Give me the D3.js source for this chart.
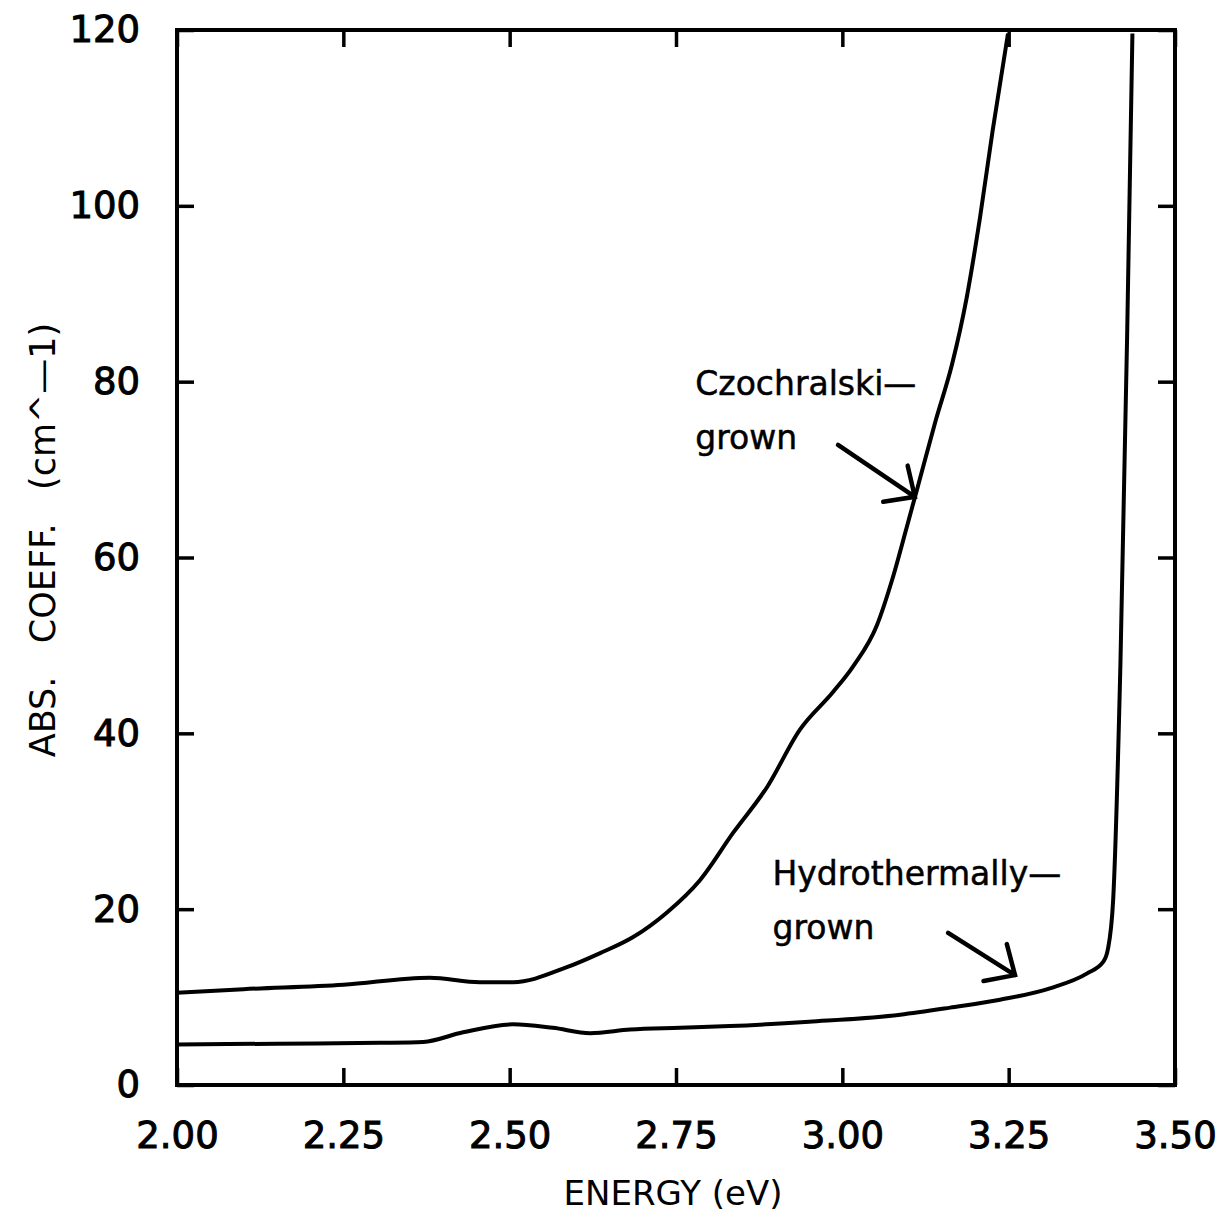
<!DOCTYPE html>
<html>
<head>
<meta charset="utf-8">
<script src="https://cdn.jsdelivr.net/npm/d3@7"></script>
<style>
  html, body { margin: 0; padding: 0; background: #fff; }
  svg { display: block; }
  text { font-family: "DejaVu Sans", sans-serif; fill: #000; }
</style>
</head>
<body>
<div id="chart"></div>
<script>
// Energy (eV) and absorption coefficient (cm^-1)
const czochralskiEnergy = [2.00, 2.10, 2.25, 2.38, 2.455, 2.505, 2.586, 2.636, 2.685, 2.736, 2.786, 2.836, 2.887, 2.936, 2.986, 3.016, 3.052, 3.075, 3.097, 3.115, 3.140, 3.165, 3.187, 3.207, 3.226, 3.249];
const czochralskiCoeff  = [10.5, 10.9, 11.4, 12.2, 11.7, 11.7, 13.4, 15.0, 16.8, 19.6, 23.3, 28.7, 33.9, 40.4, 44.7, 47.6, 52.3, 57.5, 63.5, 68.5, 75.5, 82.0, 89.6, 98.7, 108.6, 119.6];

const hydroEnergy = [2.00, 2.15, 2.305, 2.37, 2.43, 2.505, 2.565, 2.621, 2.681, 2.756, 2.831, 2.95, 3.087, 3.162, 3.237, 3.312, 3.368, 3.392, 3.399, 3.407, 3.418, 3.428, 3.436];
const hydroCoeff  = [4.6, 4.7, 4.8, 4.9, 6.0, 6.9, 6.5, 5.9, 6.3, 6.5, 6.7, 7.2, 8.0, 8.8, 9.7, 11.0, 12.7, 14.0, 15.4, 21.0, 48.0, 85.0, 119.6];

const xTicks = [2.00, 2.25, 2.50, 2.75, 3.00, 3.25, 3.50];
const yTicks = [0, 20, 40, 60, 80, 100, 120];

const xTitle = 'ENERGY (eV)';
const yTitle = 'ABS.   COEFF.   (cm^—1)';

// annotation labels and arrows, in data units
const labels = [
  { lines: ['Czochralski—', 'grown'], e: 2.779, a: 78.5 },
  { lines: ['Hydrothermally—', 'grown'], e: 2.895, a: 22.7 }
];
const arrows = [
  { from: [2.9935, 72.8], to: [3.109, 66.9] },
  { from: [3.159, 17.3], to: [3.2595, 12.5] }
];

const width = 1229, height = 1221;
const margin = { top: 30, right: 54, bottom: 136, left: 177 };
const w = width - margin.left - margin.right;
const h = height - margin.top - margin.bottom;

const svg = d3.select('#chart')
  .append('svg')
  .attr('width', width)
  .attr('height', height);

const g = svg.append('g')
  .attr('transform', `translate(${margin.left},${margin.top})`);

const x = d3.scaleLinear().domain([2.0, 3.5]).range([0, w]);
const y = d3.scaleLinear().domain([0, 120]).range([h, 0]);

const tickLen = 17;

// Bottom axis (inward ticks + labels)
const xAxis = g.append('g')
  .attr('transform', `translate(0,${h})`)
  .call(d3.axisBottom(x).tickValues(xTicks).tickSizeInner(-tickLen).tickSizeOuter(0)
    .tickPadding(tickLen + 20).tickFormat(d3.format('.2f')));

// Top axis, ticks only
const xAxisTop = g.append('g')
  .call(d3.axisTop(x).tickValues(xTicks).tickSizeInner(-tickLen).tickSizeOuter(0).tickFormat(''));

// Left axis
const yAxis = g.append('g')
  .call(d3.axisLeft(y).tickValues(yTicks).tickSizeInner(-tickLen).tickSizeOuter(0)
    .tickPadding(tickLen + 20).tickFormat(d3.format('d')));

// Right axis, ticks only
const yAxisRight = g.append('g')
  .attr('transform', `translate(${w},0)`)
  .call(d3.axisRight(y).tickValues(yTicks).tickSizeInner(-tickLen).tickSizeOuter(0).tickFormat(''));

[xAxis, xAxisTop, yAxis, yAxisRight].forEach(ax => {
  ax.select('.domain').remove();
  ax.selectAll('line').attr('stroke', '#000').attr('stroke-width', 3.5);
});

[xAxis, yAxis].forEach(ax => {
  ax.selectAll('text')
    .style('font-size', '37px')
    .style('font-family', '"DejaVu Sans", sans-serif')
    .attr('stroke', '#000').attr('stroke-width', 1);
});

// Frame
g.append('rect')
  .attr('x', 0).attr('y', 0)
  .attr('width', w).attr('height', h)
  .attr('fill', 'none')
  .attr('stroke', '#000')
  .attr('stroke-width', 4);

// Curves
const line = d3.line()
  .x(d => x(d[0]))
  .y(d => y(d[1]))
  .curve(d3.curveMonotoneX);

const czData = czochralskiEnergy.map((e, i) => [e, czochralskiCoeff[i]]);
const hyData = hydroEnergy.map((e, i) => [e, hydroCoeff[i]]);

[czData, hyData].forEach(data => {
  g.append('path')
    .datum(data)
    .attr('fill', 'none')
    .attr('stroke', '#000')
    .attr('stroke-width', 4)
    .attr('stroke-linejoin', 'round')
    .attr('d', line);
});

// Annotation labels
labels.forEach(lb => {
  const t = g.append('text')
    .attr('x', x(lb.e))
    .attr('y', y(lb.a))
    .style('font-size', '33px')
    .attr('stroke', '#000').attr('stroke-width', 0.5);
  lb.lines.forEach((s, i) => {
    t.append('tspan')
      .attr('x', x(lb.e))
      .attr('dy', i === 0 ? 0 : 54)
      .text(s);
  });
});

// Arrows with open heads
arrows.forEach(ar => {
  const x0 = x(ar.from[0]), y0 = y(ar.from[1]);
  const x1 = x(ar.to[0]), y1 = y(ar.to[1]);
  const ang = Math.atan2(y0 - y1, x0 - x1);
  const len = 32, spread = 43 * Math.PI / 180;
  const head = [ang - spread, ang + spread].map(a => [x1 + len * Math.cos(a), y1 + len * Math.sin(a)]);
  const path = `M${x0},${y0}L${x1},${y1}M${head[0][0]},${head[0][1]}L${x1},${y1}L${head[1][0]},${head[1][1]}`;
  g.append('path')
    .attr('d', path)
    .attr('fill', 'none')
    .attr('stroke', '#000')
    .attr('stroke-width', 4.5)
    .attr('stroke-linecap', 'round')
    .attr('stroke-linejoin', 'miter');
});

// Axis titles
svg.append('text')
  .attr('x', margin.left + x(2.75) - 3)
  .attr('y', 1205)
  .attr('text-anchor', 'middle')
  .style('font-size', '34px')
  .text(xTitle);

svg.append('text')
  .attr('transform', `translate(55,${540}) rotate(-90)`)
  .attr('text-anchor', 'middle')
  .style('font-size', '35px')
  .style('white-space', 'pre')
  .text(yTitle);
</script>
</body>
</html>
